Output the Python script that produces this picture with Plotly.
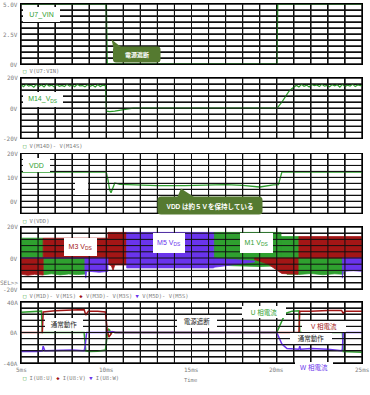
import plotly.graph_objects as go

W, H = 370, 395

def px(x):
    return x / W

def py(y):
    return 1 - y / H

GREEN = "#2fa02f"
RED = "#a31616"
PURPLE = "#6a34ec"
CALLOUT = "#557a30"
GREY = "#808080"
GRID = "#111111"
SANS = "Liberation Sans, Noto Sans CJK JP, sans-serif"
MONO = "DejaVu Sans Mono, monospace"

# ---------------- data ----------------
# Panel 1 : V(U7:VIN)
vin_t = [5.0, 10.0, 10.05, 20.0, 20.05, 25.0]
vin_v = [5.0, 5.0, 0.0, 0.0, 5.0, 5.0]

# Panel 2 : M14 Vds
m14_t = [5.0, 5.15, 5.3, 5.45, 5.6, 5.75, 5.9, 6.05, 6.2, 6.35, 6.5, 6.65, 6.8, 6.95, 7.1, 7.25,
         7.4, 7.55, 7.7, 7.85, 8.0, 8.15, 8.3, 8.45, 8.6, 8.75, 8.9, 9.05, 9.2, 9.35, 9.5, 9.65,
         9.8, 9.95, 10.02, 10.2, 10.5, 10.8, 11.2, 11.6, 13.0, 14.0, 15.0, 17.0, 19.0, 20.02,
         20.3, 20.5, 20.7, 20.9, 21.15, 21.3, 21.45, 21.6, 21.75, 21.9, 22.05, 22.2, 22.35, 22.5,
         22.65, 22.8, 22.95, 23.1, 23.25, 23.4, 23.55, 23.7, 23.85, 24.0, 24.15, 24.3, 24.45,
         24.6, 24.75, 24.9, 25.0]
m14_v = [15.6, 14.2, 15.9, 14.6, 15.2, 13.9, 15.8, 14.4, 15.5, 14.1, 16.0, 14.7, 15.3, 14.0, 15.7, 14.5,
         15.1, 14.3, 15.9, 14.6, 15.4, 14.2, 15.8, 14.8, 15.0, 14.1, 15.6, 14.5, 15.3, 14.0, 15.7, 14.4,
         15.2, 14.9, -2.0, -2.3, -2.0, -1.2, -0.6, 0.0, 0.0, -0.3, 0.0, 0.0, 0.0, 0.0,
         4.0, 8.0, 11.0, 13.0, 15.2, 14.0, 15.8, 14.5, 15.3, 14.1, 15.7, 14.9, 15.4, 14.3,
         15.9, 14.6, 15.1, 14.2, 15.6, 14.8, 15.5, 14.0, 15.8, 14.4, 15.2, 14.7, 15.9,
         14.3, 15.4, 14.9, 15.0]

# Panel 3 : VDD
vdd_t = [5.0, 10.0, 10.1, 10.2, 10.28, 10.4, 10.5, 10.8, 12.0, 13.0, 14.6, 16.0, 17.0, 18.0, 19.0, 19.8, 20.1, 20.3, 21.0, 25.0]
vdd_v = [12.2, 12.2, 9.0, 4.8, 3.6, 5.5, 7.7, 7.1, 6.8, 6.6, 6.6, 6.9, 7.0, 6.7, 6.0, 6.9, 7.0, 12.2, 12.2, 12.2]

# Panel 4 : switching Vds envelopes (segments of time, upper value, lower value)
m1_seg_t = [[5.0, 6.3], [6.3, 6.8, 7.3, 7.8, 8.3, 8.75], [16.3, 17.5, 19.0, 20.25],
            [20.25, 20.6, 21.3], [21.3, 22.0, 22.7, 23.4, 23.9]]
m1_seg_hi = [[12.8, 12.8], [0, 0, 0, 0, 0, 0], [16.5, 16.5, 16.5, 16.5],
             [13.8, 13.8, 13.8], [0, 0, 0, 0, 0]]
m1_seg_lo = [[0, 0], [-10.8, -10.2, -10.9, -10.3, -10.7, -10.4], [-4.5, -5.0, -5.5, -5.0],
             [-5.0, -10.5, -10.5], [-10.6, -10.0, -10.8, -10.2, -10.5]]

m3_seg_t = [[5.0, 5.4, 5.8, 6.3], [6.3, 10.1], [10.1, 10.3, 10.4, 10.5, 11.2],
            [18.7, 19.5, 20.3, 21.25], [21.3, 25.0]]
m3_seg_hi = [[0, 0, 0, 0], [12.8, 12.8], [16.5, 16.5, 16.5, 16.5, 16.5],
             [0, 0, 0, 0], [13.8, 13.8]]
m3_seg_lo = [[-10.4, -11.2, -10.5, -11.0], [0, 0], [-4.0, -5.0, -8.0, -4.5, -4.5],
             [-1.0, -4.0, -10.0, -10.5], [0, 0]]

m5_seg_t = [[8.75, 8.8, 8.85, 9.2, 9.6, 10.1], [11.2, 16.3], [16.3, 17.0, 17.8, 18.7],
            [23.85, 23.9, 23.95, 24.5, 25.0]]
m5_seg_hi = [[0, 0, 0, 0, 0, 0], [16.5, 16.5], [0, -0.5, -1.2, -2.0],
             [0, 0, 0, 0, 0]]
m5_seg_lo = [[-8.0, -13.0, -8.5, -8.8, -9.2, -8.6], [-6.4, -6.4], [-6.0, -5.0, -4.0, -2.5],
             [-13.0, -8.0, -8.5, -8.2, -8.6]]
m5_base_t = [5.0, 8.75]
m5_base_v = [0.0, 0.0]

# Panel 5 : phase currents
iu_t = [5.0, 5.5, 6.0, 6.2, 6.25, 8.7, 8.8, 9.0, 9.5, 9.95, 10.05, 10.12, 10.2, 10.27, 10.35, 10.5,
        20.0, 20.3, 20.5, 20.9, 21.3, 21.35, 23.85, 23.9, 24.5, 25.0]
iu_v = [26.5, 27.0, 27.5, 28.0, 0.0, 0.0, -24.0, -25.0, -24.5, -23.0, -5.0, 5.0, 3.0, -2.0, 1.0, 0.0,
        0.0, 15.0, 25.0, 28.0, 28.5, 0.0, 0.0, -25.0, -26.0, -26.0]
iv_t = [5.0, 6.25, 6.3, 7.0, 8.0, 8.7, 8.8, 8.95, 9.5, 9.95, 10.05, 10.15, 10.25, 10.35, 10.5,
        21.3, 21.35, 22.0, 23.0, 23.8, 23.9, 24.0, 25.0]
iv_v = [0.0, 0.0, 27.0, 28.5, 29.5, 30.0, 23.0, 28.0, 28.0, 27.0, 5.0, -6.0, -3.0, 1.0, 0.0,
        0.0, 28.0, 28.0, 29.0, 29.0, 25.0, 28.0, 28.0]
iw_t = [5.0, 6.0, 6.25, 6.3, 6.4, 7.0, 8.0, 8.7, 8.75, 8.85, 10.0, 10.3, 10.6, 15.0, 20.0,
        20.3, 20.6, 21.3, 21.35, 21.4, 22.0, 23.0, 23.8, 23.85, 23.9, 25.0]
iw_v = [-25.0, -25.0, -24.0, -18.0, -24.0, -23.5, -23.0, -24.0, -20.0, 0.0, 0.0, 1.0, 0.0, 0.0, 0.0,
        -15.0, -21.0, -22.0, -18.0, -22.0, -21.0, -22.0, -24.0, -22.0, 0.0, 0.0]

# axis ticks and labels
x_ticks = [5, 6, 7, 8, 9, 10, 11, 12, 13, 14, 15, 16, 17, 18, 19, 20, 21, 22, 23, 24, 25]
x_label_vals = [5, 10, 15, 20, 25]
x_label_text = ["5ms", "10ms", "15ms", "20ms", "25ms"]
y1_ticks = [0, 0.5, 1.0, 1.5, 2.0, 2.5, 3.0, 3.5, 4.0, 4.5, 5.0]
y2_ticks = [-20, -16, -12, -8, -4, 0, 4, 8, 12, 16, 20]
y3_ticks = [-5, -2.5, 0, 2.5, 5, 7.5, 10, 12.5, 15, 17.5, 20]
y4_ticks = [-20, -16, -12, -8, -4, 0, 4, 8, 12, 16, 20]
y5_ticks = [-40, -32, -24, -16, -8, 0, 8, 16, 24, 32, 40]
y_label_vals = [[0, 2.5, 5.0], [-20, 0, 20], [0, 10, 20], [-20, -16, 0, 20], [-40, 0, 40]]
y_label_text = [["0V", "2.5V", "5.0V"], ["-20V", "0V", "20V"], ["0V", "10V", "20V"],
                ["-20V", "SEL>>", "0V", "20V"], ["-40A", "0A", "40A"]]

panels_px = [(4, 64), (78, 138.3), (153.5, 213.3), (227, 289), (302, 363)]
y_ranges = [[0, 5], [-20, 20], [-5, 20], [-20, 20], [-40, 40]]
y_ticks = [y1_ticks, y2_ticks, y3_ticks, y4_ticks, y5_ticks]

# ---------------- figure ----------------
fig = go.Figure()
annotations = []
shapes = []

# grid lines as traces through each panel's axes (under the data)
for i in range(5):
    n = "" if i == 0 else str(i + 1)
    lo, hi = y_ranges[i]
    gx, gy = [], []
    for v in x_ticks:
        gx += [v, v, None]
        gy += [lo, hi, None]
    for v in y_ticks[i]:
        gx += [5, 25, None]
        gy += [v, v, None]
    fig.add_trace(go.Scatter(x=gx, y=gy, mode="lines", line=dict(color=GRID, width=1),
                             xaxis="x" + n, yaxis="y" + n, showlegend=False, hoverinfo="skip"))

def line(x, y, color, axis, width=1.4):
    fig.add_trace(go.Scatter(x=x, y=y, mode="lines", line=dict(color=color, width=width),
                             xaxis="x" + axis, yaxis="y" + axis, showlegend=False, hoverinfo="skip"))

def blocks(seg_t, seg_hi, seg_lo, color, axis):
    xs, ys = [], []
    for t, hi, lo in zip(seg_t, seg_hi, seg_lo):
        xs += list(t) + list(reversed(t)) + [t[0], None]
        ys += list(hi) + list(reversed(lo)) + [hi[0], None]
    fig.add_trace(go.Scatter(x=xs, y=ys, mode="lines", fill="toself", fillcolor=color,
                             line=dict(color=color, width=0.8), xaxis="x" + axis, yaxis="y" + axis,
                             showlegend=False, hoverinfo="skip"))

line(vin_t, vin_v, GREEN, "", 1.6)
line(m14_t, m14_v, GREEN, "2", 1.2)
line(vdd_t, vdd_v, GREEN, "3", 1.3)
blocks(m1_seg_t, m1_seg_hi, m1_seg_lo, GREEN, "4")
blocks(m3_seg_t, m3_seg_hi, m3_seg_lo, RED, "4")
line(m5_base_t, m5_base_v, PURPLE, "4", 1.0)
blocks(m5_seg_t, m5_seg_hi, m5_seg_lo, PURPLE, "4")
line(iu_t, iu_v, GREEN, "5", 1.5)
line(iv_t, iv_v, RED, "5", 1.5)
line(iw_t, iw_v, PURPLE, "5", 1.5)

layout = dict(width=W, height=H, margin=dict(l=0, r=0, t=0, b=0),
              paper_bgcolor="white", plot_bgcolor="white", showlegend=False)
for i in range(5):
    n = "" if i == 0 else str(i + 1)
    top, bot = panels_px[i]
    layout["xaxis" + n] = dict(domain=[px(21), px(362)], range=[5, 25], anchor="y" + n,
                               tickmode="array", tickvals=x_ticks, showticklabels=False,
                               showgrid=True, gridcolor=GRID, gridwidth=1, zeroline=False,
                               showline=True, linecolor="black", mirror=True, fixedrange=True)
    layout["yaxis" + n] = dict(domain=[py(bot), py(top)], range=y_ranges[i], anchor="x" + n,
                               tickmode="array", tickvals=y_ticks[i], showticklabels=False,
                               showgrid=True, gridcolor=GRID, gridwidth=1, zeroline=False,
                               showline=True, linecolor="black", mirror=True, fixedrange=True)
    # grid also as upper-layer shapes placed through the axes' scales
    for v in x_ticks:
        shapes.append(dict(type="line", xref="x" + n, yref="y" + n + " domain",
                           x0=v, x1=v, y0=0, y1=1, line=dict(color=GRID, width=1), layer="above"))
    for v in y_ticks[i]:
        shapes.append(dict(type="line", xref="x" + n + " domain", yref="y" + n,
                           x0=0, x1=1, y0=v, y1=v, line=dict(color=GRID, width=1), layer="above"))
    # tick labels placed through the axis scale
    for v, t in zip(y_label_vals[i], y_label_text[i]):
        annotations.append(dict(text=t, xref="paper", x=px(19.5), xanchor="right",
                                yref="y" + n, y=v, yanchor="middle", showarrow=False,
                                font=dict(family=MONO, size=6, color=GREY)))
for v, t in zip(x_label_vals, x_label_text):
    annotations.append(dict(text=t, xref="x5", x=v, xanchor="center", yref="paper", y=py(369.5),
                            yanchor="middle", showarrow=False, font=dict(family=MONO, size=6, color=GREY)))
fig.update_layout(**layout)


def label(text, cx, cy, w, h, color, size=7, bg="white", bold=False):
    annotations.append(dict(
        text=("<b>%s</b>" % text) if bold else text,
        x=px(cx), y=py(cy), xref="paper", yref="paper",
        xanchor="center", yanchor="middle", showarrow=False,
        width=w, height=h, bgcolor=bg, borderpad=0, borderwidth=0,
        font=dict(family=SANS, size=size, color=color)))

def legend(text, y):
    annotations.append(dict(
        text=text, x=px(21), y=py(y), xref="paper", yref="paper",
        xanchor="left", yanchor="middle", showarrow=False,
        font=dict(family=MONO, size=5.5, color=GREY)))

def path_of(points):
    s = "M %f,%f " % (px(points[0][0]), py(points[0][1]))
    for p in points[1:]:
        s += "L %f,%f " % (px(p[0]), py(p[1]))
    return s + "Z"

def rrect(x0, y0, x1, y1, r):
    P = lambda x, y: "%f,%f" % (px(x), py(y))
    return ("M " + P(x0 + r, y0) + " L " + P(x1 - r, y0) + " Q " + P(x1, y0) + " " + P(x1, y0 + r) +
            " L " + P(x1, y1 - r) + " Q " + P(x1, y1) + " " + P(x1 - r, y1) +
            " L " + P(x0 + r, y1) + " Q " + P(x0, y1) + " " + P(x0, y1 - r) +
            " L " + P(x0, y0 + r) + " Q " + P(x0, y0) + " " + P(x0 + r, y0) + " Z")

def sq(c, ch):
    return '<span style="color:%s">%s</span>' % (c, ch)

# legends under each panel
legend(sq(GREEN, "□") + " V(U7:VIN)", 71)
legend(sq(GREEN, "□") + " V(M14D)- V(M14S)", 146)
legend(sq(GREEN, "□") + " V(VDD)", 221)
legend(sq(GREEN, "□") + " V(M1D)- V(M1S) " + sq(RED, "◆") + " V(M3D)- V(M3S) " +
       sq(PURPLE, "▼") + " V(M5D)- V(M5S)", 296)
legend(sq(GREEN, "□") + " I(U8:U) " + sq(RED, "◆") + " I(U8:V) " + sq(PURPLE, "▼") + " I(U8:W)", 377.5)

annotations.append(dict(text="Time", x=px(190), y=py(385), xref="paper", yref="paper",
                        showarrow=False, font=dict(family=MONO, size=5.5, color=GREY)))

# white panel labels
label("U7_VIN", 41.5, 14.5, 37, 15, GREEN)
label("M14_V<sub>DS</sub>", 43, 99.5, 40, 15, GREEN)
label("VDD", 36.5, 165, 27, 14, GREEN)
label("M3 V<sub>DS</sub>", 80.5, 246.5, 33, 18, RED)
label("M5 V<sub>DS</sub>", 169, 243.5, 32, 20, PURPLE)
label("M1 V<sub>DS</sub>", 256, 243.5, 33, 20, GREEN)
label("通常動作", 64, 324.5, 38, 13, "#222222", 6.5)
label("電源遮断", 197, 321.5, 40, 13, "#222222", 6.5)
label("U 相電流", 263.5, 312, 44, 12, GREEN, 6.5)
label("V 相電流", 323.5, 326, 44, 11, RED, 6.5)
label("通常動作", 311, 338, 42, 11, "#222222", 6.5)
label("W 相電流", 313.5, 366.5, 38, 10, PURPLE, 6.5)

# white blank patch in VDD panel
shapes.append(dict(type="rect", xref="paper", yref="paper", x0=px(75), x1=px(88),
                   y0=py(195), y1=py(182), fillcolor="white", line=dict(width=0), layer="above"))

# dark green callouts
shapes.append(dict(type="path", xref="paper", yref="paper", path=path_of([(111.5, 39.5), (113.5, 48), (121, 47)]),
                   fillcolor=CALLOUT, line=dict(width=0), layer="above"))
shapes.append(dict(type="path", xref="paper", yref="paper", path=rrect(113, 46.5, 160.5, 62.5, 3),
                   fillcolor=CALLOUT, line=dict(width=0), layer="above"))
label("電源遮断", 137, 54.5, 44, 12, "white", 6, bg="rgba(0,0,0,0)", bold=True)

shapes.append(dict(type="path", xref="paper", yref="paper", path=path_of([(181, 188.5), (177, 198), (194, 197)]),
                   fillcolor=CALLOUT, line=dict(width=0), layer="above"))
shapes.append(dict(type="path", xref="paper", yref="paper", path=rrect(157.5, 196.5, 262.5, 214.5, 3.5),
                   fillcolor=CALLOUT, line=dict(width=0), layer="above"))
label("VDD は約５Ｖを保持している", 210, 205.5, 100, 14, "white", 6.5, bg="rgba(0,0,0,0)", bold=True)

fig.update_layout(annotations=annotations, shapes=shapes)

fig.write_html("out.html", config={"displayModeBar": False})
